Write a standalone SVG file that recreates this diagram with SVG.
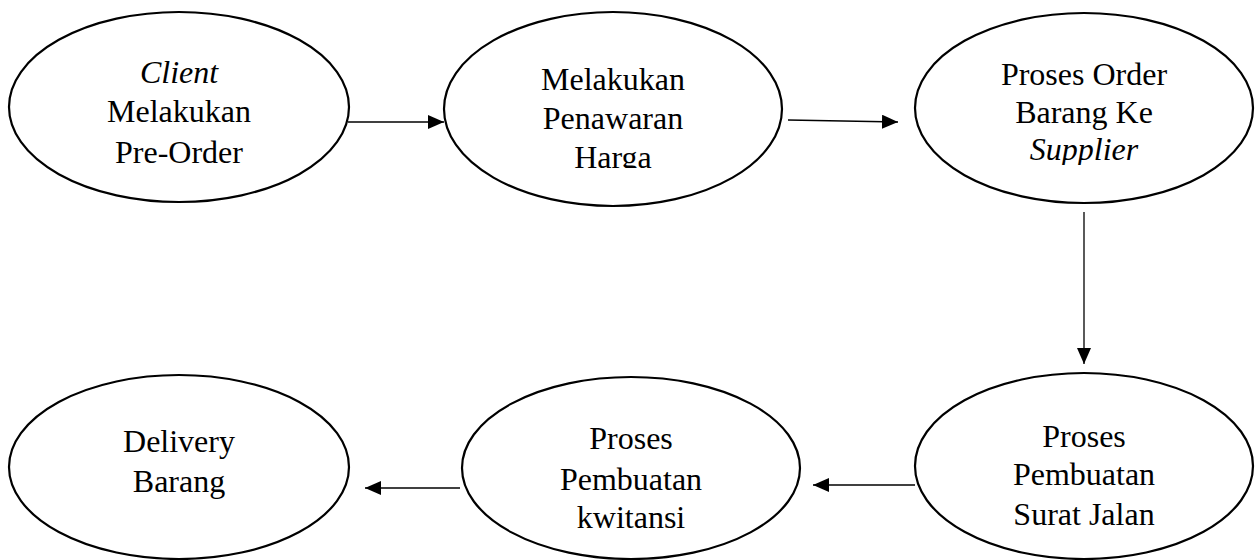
<svg xmlns="http://www.w3.org/2000/svg" width="1260" height="560" viewBox="0 0 1260 560">
<style>
.n{fill:#fff;stroke:#000;stroke-width:2.2}
.t{font-family:"Liberation Serif","Times New Roman",serif;font-size:32px;fill:#000;text-anchor:middle}
.i{font-style:italic}
.c{stroke:#000;stroke-width:1.3;fill:none;marker-end:url(#ah)}
</style>
<defs>
<marker id="ah" viewBox="0 0 16 14" refX="16" refY="7" markerWidth="16" markerHeight="14" markerUnits="userSpaceOnUse" orient="auto">
<path d="M0,0 L16,7 L0,14 Z" fill="#000"/>
</marker>
<clipPath id="cl2"><rect x="440" y="0" width="350" height="168"/></clipPath>
<clipPath id="cl3"><rect x="910" y="0" width="350" height="165"/></clipPath>
</defs>
<rect width="1260" height="560" fill="#fff"/>
<g id="connectors">
<line class="c" x1="348" y1="122" x2="444" y2="122"/>
<line class="c" x1="788" y1="120" x2="898" y2="122"/>
<line class="c" x1="1084" y1="212" x2="1084" y2="364"/>
<line class="c" x1="915" y1="485" x2="813" y2="485"/>
<line class="c" x1="460" y1="488" x2="365" y2="488"/>
</g>
<g id="n1">
<ellipse class="n" cx="179" cy="107" rx="170" ry="95"/>
<text class="t i" x="179" y="83">Client</text>
<text class="t" x="179" y="122">Melakukan</text>
<text class="t" x="179" y="163">Pre-Order</text>
</g>
<g id="n2">
<ellipse class="n" cx="613" cy="109" rx="169" ry="97"/>
<g clip-path="url(#cl2)">
<text class="t" x="613" y="90">Melakukan</text>
<text class="t" x="613" y="129">Penawaran</text>
<text class="t" x="613" y="168">Harga</text>
</g>
</g>
<g id="n3">
<ellipse class="n" cx="1084" cy="108" rx="169" ry="95"/>
<g clip-path="url(#cl3)">
<text class="t" x="1084" y="85">Proses Order</text>
<text class="t" x="1084" y="123">Barang Ke</text>
<text class="t i" x="1084" y="160">Supplier</text>
</g>
</g>
<g id="n4">
<ellipse class="n" cx="179" cy="467" rx="170" ry="92"/>
<text class="t" x="179" y="452">Delivery</text>
<text class="t" x="179" y="492">Barang</text>
</g>
<g id="n5">
<ellipse class="n" cx="631" cy="468" rx="169" ry="91"/>
<text class="t" x="631" y="449">Proses</text>
<text class="t" x="631" y="490">Pembuatan</text>
<text class="t" x="631" y="528">kwitansi</text>
</g>
<g id="n6">
<ellipse class="n" cx="1084" cy="466" rx="169" ry="93"/>
<text class="t" x="1084" y="447">Proses</text>
<text class="t" x="1084" y="485">Pembuatan</text>
<text class="t" x="1084" y="525">Surat Jalan</text>
</g>
</svg>
